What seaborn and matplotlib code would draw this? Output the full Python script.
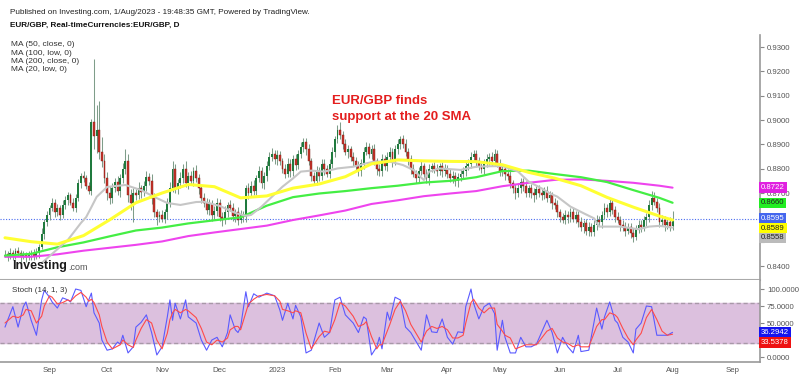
import numpy as np
import pandas as pd
import matplotlib
matplotlib.use("Agg")
import matplotlib.pyplot as plt
import seaborn as sns

# EUR/GBP daily closes, in pips (1e-4), first bar = 9 Aug 2022
close = [8450, 8438, 8455, 8445, 8460, 8452, 8440, 8448, 8435, 8445, 8455, 8440, 8452,
         8480, 8530, 8580, 8610, 8640, 8660, 8620, 8640, 8610, 8650, 8670, 8690, 8660,
         8640, 8680, 8740, 8770, 8760, 8730, 8710, 8990, 8935,
         8960, 8870, 8830, 8760, 8700, 8680,
         8720, 8745, 8710, 8760, 8800, 8830, 8690, 8660,
         8700, 8690, 8720, 8705, 8730, 8765, 8750, 8680,
         8620, 8600, 8610, 8595, 8620,
         8660, 8720, 8800, 8720, 8740, 8760, 8800, 8740, 8770, 8750, 8790, 8760, 8720, 8680,
         8660, 8630, 8655, 8610, 8625, 8660, 8600, 8590, 8620, 8650, 8640, 8605, 8620, 8590, 8610, 8600,
         8720, 8700, 8730, 8710, 8760, 8790, 8740, 8770,
         8810, 8850, 8860, 8840, 8855,
         8830, 8800, 8780, 8820, 8790, 8840, 8815,
         8860, 8890, 8910, 8880, 8830, 8770, 8750,
         8790, 8770, 8820, 8800, 8780, 8820, 8870, 8920, 8960, 8940,
         8900, 8870, 8880, 8850, 8830, 8810, 8790, 8825, 8870, 8890, 8860, 8880,
         8830, 8800, 8790, 8840, 8810, 8850, 8870, 8830, 8880, 8900, 8920, 8900,
         8870, 8840, 8800, 8780, 8760, 8790, 8810, 8780, 8760, 8800,
         8810, 8800, 8790, 8810, 8790, 8800, 8780, 8760, 8770, 8750, 8765, 8780, 8790, 8810, 8820,
         8850, 8860, 8830, 8810, 8800, 8820, 8840, 8850, 8830, 8860, 8820, 8790, 8800,
         8780, 8770, 8740, 8720, 8700,
         8720, 8745, 8730, 8700, 8720, 8700, 8690, 8715, 8700, 8690, 8710, 8680, 8690, 8660, 8650,
         8620, 8600, 8590,
         8610, 8600, 8620, 8595, 8610,
         8580, 8560, 8575, 8545, 8560, 8540,
         8570, 8590, 8580,
         8610, 8640, 8620, 8660, 8630, 8600, 8590,
         8570, 8560, 8545, 8560, 8535, 8520, 8555,
         8570, 8560, 8590, 8600,
         8650, 8680, 8665, 8640, 8580,
         8590, 8570, 8580, 8565, 8595]
open_first = 8448

# wick lengths above / below the body, pips
wick_up = [15, 12, 18, 10, 14, 20, 12, 15, 10, 18, 12, 15, 20, 12, 25, 15,
           18, 12, 20, 15, 14, 12, 20, 18, 15, 12, 20, 15, 18, 12, 20, 15,
           15, 15, 260, 100, 118, 60, 30, 25, 30, 20, 18, 25, 20, 22, 50, 30,
           25, 20, 18, 25, 15, 20, 25, 18, 30, 20, 15, 18, 20, 15, 20, 25,
           30, 20, 18, 25, 20, 30, 15, 20, 18, 25, 20, 15, 20, 18, 22, 15,
           20, 18, 15, 20, 25, 15, 20, 18, 15, 22, 20, 15, 15, 20, 18, 25,
           15, 20, 18, 15, 20, 18, 25, 15, 20, 18, 15, 20, 22, 18, 15, 20,
           18, 20, 15, 18, 20, 15, 18, 20, 15, 20, 18, 15, 20, 18, 15, 20,
           30, 15, 20, 18, 15, 20, 18, 20, 15, 18, 20, 15, 18, 20, 15, 18,
           20, 15, 18, 20, 15, 18, 20, 15, 18, 20, 15, 18, 20, 15, 18, 20,
           15, 18, 20, 15, 18, 20, 15, 18, 20, 15, 18, 20, 15, 18, 20, 15,
           18, 20, 20, 15, 18, 20, 15, 18, 20, 15, 18, 20, 15, 18, 20, 15,
           18, 20, 15, 18, 20, 15, 18, 20, 15, 18, 20, 15, 18, 20, 15, 18,
           20, 15, 18, 20, 15, 18, 20, 15, 18, 20, 15, 18, 20, 15, 18, 20,
           15, 18, 20, 15, 18, 20, 15, 20, 15, 18, 20, 15, 18, 20, 15, 18,
           20, 15, 18, 20, 15, 18, 20, 30, 25, 15, 18, 20, 15, 18, 20, 30]
wick_dn = [12, 18, 10, 20, 15, 12, 25, 10, 18, 12, 20, 15, 10, 18, 12, 20,
           15, 20, 12, 18, 15, 20, 12, 15, 18, 10, 15, 20, 12, 18, 15, 12,
           15, 20, 55, 70, 30, 25, 20, 30, 25, 20, 15, 20, 25, 18, 20, 25,
           30, 80, 20, 15, 25, 18, 20, 15, 25, 20, 30, 18, 15, 20, 25, 18,
           15, 20, 25, 18, 20, 15, 25, 18, 20, 15, 25, 20, 18, 15, 20, 25,
           18, 20, 15, 25, 18, 20, 15, 18, 25, 20, 15, 18, 20, 25, 15, 18,
           20, 15, 18, 25, 20, 15, 18, 20, 25, 15, 18, 20, 15, 25, 18, 20,
           15, 18, 20, 25, 15, 20, 18, 15, 20, 18, 25, 15, 20, 18, 20, 15,
           18, 20, 15, 25, 18, 20, 15, 18, 20, 25, 15, 18, 20, 15, 25, 18,
           20, 15, 18, 20, 25, 15, 18, 20, 15, 18, 25, 20, 15, 18, 20, 15,
           18, 20, 25, 15, 18, 20, 15, 25, 18, 20, 15, 18, 20, 25, 15, 18,
           20, 15, 18, 20, 25, 15, 18, 20, 15, 25, 18, 20, 15, 18, 20, 25,
           15, 18, 20, 25, 15, 18, 20, 15, 18, 20, 25, 15, 18, 20, 15, 18,
           20, 25, 15, 18, 20, 15, 18, 25, 20, 15, 18, 20, 15, 25, 18, 20,
           15, 18, 20, 15, 25, 18, 20, 15, 18, 20, 15, 25, 18, 20, 15, 18,
           20, 15, 18, 20, 15, 25, 18, 20, 15, 18, 20, 15, 25, 18, 20, 15]

# moving averages, sampled along the chart (bar number -> pips)
ma_day = [0, 10, 20, 30, 40, 50, 60, 70, 80, 90, 100, 110, 120, 130, 140,
          150, 160, 170, 180, 190, 200, 210, 220, 230, 240, 250, 255]
ma50_close = [8516, 8500, 8490, 8525, 8590, 8660, 8700, 8735, 8726, 8680, 8688, 8720, 8737, 8767,
              8820, 8836, 8832, 8830, 8829, 8816, 8785, 8761, 8730, 8682, 8642, 8605, 8589]
ma100_low = [8443, 8450, 8477, 8497, 8522, 8546, 8558, 8575, 8588, 8600, 8648, 8683, 8698, 8708,
             8720, 8730, 8743, 8750, 8765, 8790, 8792, 8778, 8765, 8745, 8712, 8680, 8660]
ma200_close = [8438, 8438, 8448, 8463, 8475, 8487, 8501, 8523, 8538, 8552, 8566, 8589, 8608, 8628,
               8655, 8670, 8687, 8698, 8708, 8728, 8742, 8754, 8756, 8750, 8742, 8730, 8722]
ma20_day = [14, 24, 29, 31, 33, 35, 39, 46, 52, 57, 62, 67, 73, 76, 82, 88, 92, 94, 98, 102,
            106, 110, 113, 117, 122, 127, 133, 138, 141, 147, 152, 156, 158, 160, 162, 166, 174, 180, 185, 190,
            196, 200, 205, 208, 211, 216, 221, 225, 227, 235, 242, 246, 250, 255]
ma20_low = [8412, 8507, 8577, 8601, 8642, 8684, 8725, 8733, 8712, 8684, 8659, 8651, 8663, 8664, 8647, 8618, 8606, 8610, 8644, 8685,
            8726, 8760, 8788, 8792, 8788, 8801, 8808, 8822, 8829, 8829, 8815, 8795, 8774, 8753, 8788, 8801, 8795, 8808, 8810, 8811,
            8788, 8747, 8719, 8699, 8685, 8644, 8617, 8596, 8562, 8562, 8551, 8562, 8565, 8558]

# Stoch (14, 1, 3): %K blue, %D red, sampled at turning points
stoch_day = [0, 3, 5, 7, 8, 10, 12, 14, 15, 17, 18, 20, 22, 24, 25, 27, 29, 31, 32, 33,
             34, 36, 37, 39, 41, 43, 44, 45, 47, 49, 50, 52, 54, 56, 58, 60, 62, 63, 64, 65,
             67, 69, 70, 73, 75, 77, 79, 81, 83, 85, 86, 88, 89, 90, 92, 93, 95, 97, 100, 103,
             105, 106, 108, 110, 111, 113, 115, 117, 120, 122, 124, 126, 128, 130, 133, 135, 137, 138, 140, 142,
             143, 144, 146, 147, 149, 151, 153, 155, 159, 161, 163, 165, 167, 169, 171, 173, 175, 176, 178, 179,
             181, 183, 185, 187, 188, 190, 191, 193, 195, 197, 199, 201, 203, 207, 209, 211, 213, 215, 217, 219,
             220, 223, 226, 228, 229, 231, 233, 234, 236, 238, 240, 241, 243, 245, 247, 249, 251, 253, 255]
stoch_k = [44, 74, 44, 74, 81, 54, 32, 84, 98, 88, 81, 72, 87, 84, 81, 100, 98, 74, 84, 94,
           65, 50, 25, 10, 12, 22, 19, 32, 6, 15, 44, 51, 62, 36, 3, 15, 59, 84, 54, 79,
           56, 84, 59, 50, 25, 10, 25, 29, 15, 36, 62, 40, 36, 44, 96, 74, 93, 88, 94, 90,
           69, 54, 79, 56, 76, 59, 6, 10, 50, 29, 36, 84, 88, 62, 50, 36, 59, 56, 3, 15,
           29, 12, 66, 54, 88, 84, 44, 36, 10, 62, 37, 36, 56, 29, 19, 37, 36, 74, 100, 79,
           56, 74, 79, 64, 10, 54, 29, 6, 6, 29, 15, 15, 19, 54, 36, 6, 29, 15, 6, 32,
           8, 10, 72, 41, 59, 81, 54, 50, 29, 22, 6, 41, 50, 75, 74, 32, 32, 32, 36.2942]
stoch_d = [50, 60, 58, 62, 70, 68, 50, 60, 75, 90, 88, 78, 80, 84, 82, 90, 95, 88, 82, 85,
           80, 62, 45, 22, 12, 16, 18, 25, 18, 14, 25, 42, 55, 50, 25, 12, 35, 55, 65, 70,
           65, 70, 68, 58, 42, 22, 18, 25, 22, 28, 40, 45, 45, 40, 65, 78, 85, 90, 92, 90,
           82, 70, 68, 65, 68, 65, 35, 12, 30, 38, 36, 55, 80, 75, 60, 45, 48, 52, 30, 12,
           18, 18, 38, 48, 70, 82, 68, 48, 22, 38, 45, 42, 45, 40, 28, 28, 32, 50, 80, 85,
           72, 65, 72, 72, 48, 38, 32, 28, 12, 15, 18, 18, 18, 38, 42, 28, 22, 20, 15, 18,
           15, 15, 45, 55, 55, 65, 62, 58, 42, 28, 18, 25, 35, 58, 70, 55, 38, 32, 33.5378]

ma_labels = ["MA (50, close, 0)", "MA (100, low, 0)", "MA (200, close, 0)", "MA (20, low, 0)"]
price_ticks = [0.84, 0.85, 0.86, 0.87, 0.88, 0.89, 0.90, 0.91, 0.92, 0.93]
stoch_ticks = [0, 25, 50, 75, 100]

sns.set_theme(style="white")
plt.rcParams["font.family"] = ["Liberation Sans", "DejaVu Sans"]

# candles
dates = pd.bdate_range("2022-08-09", periods=len(close))
px = pd.DataFrame({"date": dates, "bar": np.arange(len(close))})
px["close"] = np.array(close) / 1e4
px["open"] = np.r_[open_first, close[:-1]] / 1e4
px["high"] = np.maximum(px.open, px.close) + np.array(wick_up) / 1e4
px["low"] = np.minimum(px.open, px.close) - np.array(wick_dn) / 1e4
up = px.close >= px.open

fig = plt.figure(figsize=(8, 3.76), dpi=100)
fig.patch.set_facecolor("white")
ax1 = fig.add_axes([0, 0.2553, 0.95, 0.6516])
ax2 = fig.add_axes([0, 0.0372, 0.95, 0.218])
xlim = (-1.91, 288.4)

ax1.vlines(px.bar, px.low, px.high, color="#7f9d8a", lw=0.75, zorder=2)
body = (px.close - px.open).abs().clip(lower=0.00015)
ax1.bar(px.bar[up], body[up], bottom=px.open[up], width=0.72,
        color="#1f7a3d", lw=0, zorder=2.2)
ax1.bar(px.bar[~up], body[~up], bottom=px.close[~up], width=0.72,
        color="#c9352b", edgecolor="#7a1812", lw=0.3, zorder=2.2)

sns.lineplot(x=ma_day, y=np.array(ma200_close) / 1e4, ax=ax1, color="#ee44ee", lw=1.5, estimator=None, zorder=3)
sns.lineplot(x=ma_day, y=np.array(ma100_low) / 1e4, ax=ax1, color="#44ee44", lw=1.6, estimator=None, zorder=3)
sns.lineplot(x=ma20_day, y=np.array(ma20_low) / 1e4, ax=ax1, color="#c6c6c6", lw=1.5, estimator=None, zorder=3)
sns.lineplot(x=ma_day, y=np.array(ma50_close) / 1e4, ax=ax1, color="#ffff33", lw=2.2, estimator=None, zorder=3.1)

last = px.close.iloc[-1]
ax1.axhline(last, color="#4a6cf0", lw=0.8, ls=(0, (1, 1.5)), zorder=1.5)

ax1.set_xlim(*xlim)
ax1.set_ylim(0.83425, 0.93494)
ax1.set_xticks([])
ax1.yaxis.tick_right()
ax1.set_yticks(price_ticks)
# labels that sit under the value tags are hidden, as on the original
ax1.set_yticklabels(["" if t in (0.85, 0.86) else "%.4f" % t for t in price_ticks])
ax1.tick_params(axis="y", length=3, width=0.8, color="#888888", labelsize=5.6, labelcolor="#555555", pad=2)
for s in ["top", "left"]:
    ax1.spines[s].set_visible(False)
ax1.spines["right"].set_color("#999999")
ax1.spines["right"].set_linewidth(1.2)
ax1.spines["bottom"].set_color("#aaaaaa")
ax1.spines["bottom"].set_linewidth(1.5)
ax1.set_xlabel("")
ax1.set_ylabel("")


def tag(ax, y, text, fc, tc):
    ax.text(1.0015, y, text, transform=ax.get_yaxis_transform(), ha="left", va="center",
            fontsize=5.6, color=tc, zorder=10, clip_on=False,
            bbox=dict(boxstyle="square,pad=0.22", fc=fc, ec="none"))


# right-hand value tags, stacked so they don't overlap
tags = [(ma200_close[-1] / 1e4, "#e020e0", "white"),
        (ma100_low[-1] / 1e4, "#22ee22", "#222222"),
        (last, "#4466ee", "white"),
        (ma50_close[-1] / 1e4, "#ffff00", "#222222"),
        (ma20_low[-1] / 1e4, "#bbbbbb", "#222222")]
tags.sort(key=lambda t: -t[0])
pos = None
for val, fc, tc in tags:
    pos = val if pos is None else min(val, pos - 0.00395)
    tag(ax1, pos, "%.4f" % val, fc, tc)

# stochastic panel
ax2.axhspan(20, 80, color="#dcc0de", zorder=0)
ax2.axhline(20, color="#a898a8", lw=1, ls=(0, (3, 2)), zorder=1)
ax2.axhline(80, color="#a898a8", lw=1, ls=(0, (3, 2)), zorder=1)
sns.lineplot(x=stoch_day, y=stoch_k, ax=ax2, color="#5a5aff", lw=0.8, estimator=None, zorder=3)
sns.lineplot(x=stoch_day, y=stoch_d, ax=ax2, color="#ff4a4a", lw=0.8, estimator=None, zorder=3)
ax2.set_xlim(*xlim)
ax2.set_ylim(-7.35, 113.2)
ax2.yaxis.tick_right()
ax2.set_yticks(stoch_ticks)
ax2.set_yticklabels(["" if t == 25 else "%.4f" % t for t in stoch_ticks])
ax2.tick_params(axis="y", length=3, width=0.8, color="#888888", labelsize=5.6, labelcolor="#555555", pad=2)

ext = pd.bdate_range(dates[0], "2023-09-30")
mpos = [k for k in range(1, len(ext)) if ext[k].month != ext[k - 1].month]
mlab = [str(ext[k].year) if ext[k].month == 1 else ext[k].strftime("%b") for k in mpos]
ax2.set_xticks(mpos)
ax2.set_xticklabels(mlab)
ax2.tick_params(axis="x", length=2, width=0.6, color="#999999", labelsize=5.6, labelcolor="#555555", pad=1.5)
for s in ["top", "left"]:
    ax2.spines[s].set_visible(False)
ax2.spines["right"].set_color("#999999")
ax2.spines["right"].set_linewidth(1.2)
ax2.spines["bottom"].set_color("#999999")
ax2.spines["bottom"].set_linewidth(1.2)
ax2.set_xlabel("")
ax2.set_ylabel("")

k_last, d_last = stoch_k[-1], stoch_d[-1]
tag(ax2, k_last, "%.4f" % k_last, "#1515ee", "white")
tag(ax2, min(d_last, k_last - 14.7), "%.4f" % d_last, "#ee1111", "white")

# texts
fig.text(0.0125, 1 - 12 / 376, "Published on Investing.com, 1/Aug/2023 - 19:48:35 GMT, Powered by TradingView.",
         fontsize=5.9, color="#222222", va="center")
fig.text(0.0125, 1 - 25 / 376, "EUR/GBP, Real-timeCurrencies:EUR/GBP, D",
         fontsize=5.9, color="#111111", weight="bold", va="center")
for k, lab in enumerate(ma_labels):
    fig.text(0.0135, 1 - (45 + 8.3 * k) / 376, lab, fontsize=6.0, color="#333333", va="center")
fig.text(0.015, 1 - 290 / 376, "Stoch (14, 1, 3)", fontsize=5.8, color="#333333", va="center")
fig.text(0.415, 1 - 101 / 376, "EUR/GBP finds", fontsize=9.5, color="#e41e1e", weight="bold", va="center")
fig.text(0.415, 1 - 117 / 376, "support at the 20 SMA", fontsize=9.5, color="#e41e1e", weight="bold", va="center")
fig.text(0.015, 1 - 266 / 376, "Investing", fontsize=9, color="#1a1a1a", weight="bold", va="center")
fig.text(0.085, 1 - 267.5 / 376, ".com", fontsize=6.5, color="#555555", va="center")

fig.savefig("out.png", dpi=100, facecolor="white")
